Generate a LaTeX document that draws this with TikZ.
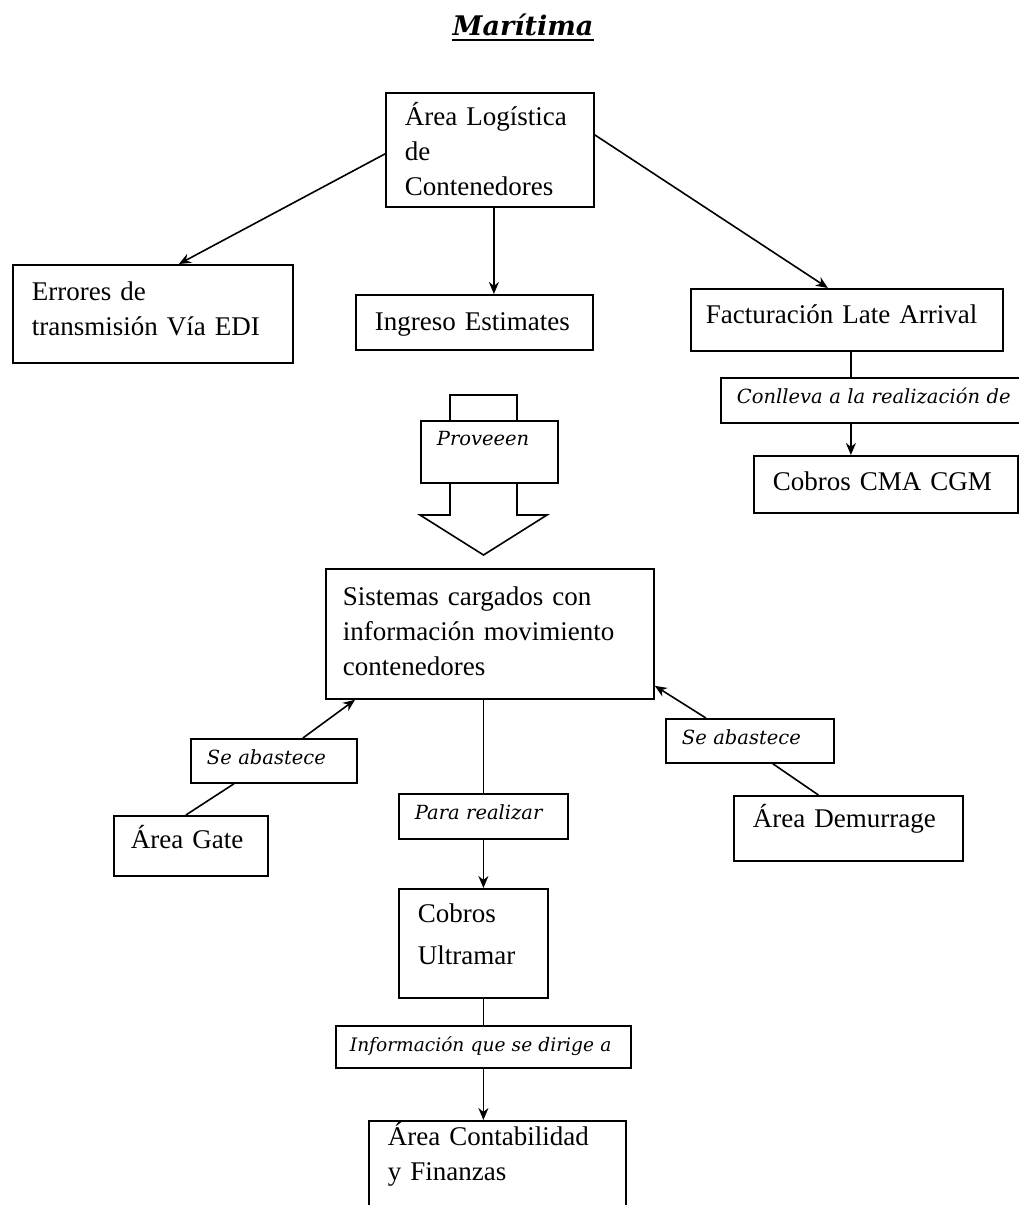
\documentclass[tikz,border=0pt]{standalone}
\usepackage{fontspec}
\setmainfont{Liberation Serif}
\newfontfamily\etiqfont{DejaVu Serif}
\usetikzlibrary{arrows.meta}

\begin{document}
\begin{tikzpicture} [-> , >= {Stealth[length=12pt, width=10pt]}, line width = 1.6pt, x = 1pt, y = -1pt,
        caja/.style = {draw, rectangle, anchor = north west, align = left, inner xsep = 19pt, inner ysep = 0pt, line width = 1.8pt, font = \fontsize{27}{35}\selectfont},
        etiqueta/.style = {draw, rectangle, fill = white, anchor = north west, align = left, inner xsep = 16pt, inner ysep = 0pt, text height = 26pt, line width = 1.8pt, font = \etiqfont\itshape\fontsize{19.5}{24}\selectfont}]
        \useasboundingbox (0,0) rectangle (1019,1205);

        \node [anchor = base, inner sep = 0pt, font = \etiqfont\bfseries\itshape\fontsize{27}{32}\selectfont] (titulo) at (523,35) {Marítima};
        \draw [-, line width = 2pt] ([yshift=-5pt]titulo.base west) -- ([yshift=-5pt]titulo.base east);

        \node [caja, text width = 170pt, text height = 33pt, text depth = 81pt] (logistica) at (385,92) {Área Logística\\de\\Contenedores};
        \node [caja, text width = 242pt, text height = 36pt, text depth = 62pt] (errores) at (12,264) {Errores de\\transmisión Vía EDI};
        \node [caja, text width = 199pt, text height = 36pt, text depth = 19pt] (ingreso) at (355,294) {Ingreso Estimates};
        \node [caja, inner xsep = 15pt, text width = 282pt, text height = 35pt, text depth = 27pt] (facturacion) at (690,288) {Facturación Late Arrival};
        \node [etiqueta, text width = 278pt, text depth = 19pt] (conlleva) at (720,377) {Conlleva a la realización de};
        \node [caja, text width = 226pt, text height = 35pt, text depth = 22pt] (cmacgm) at (753,455) {Cobros CMA CGM};

        \path ([yshift=-4pt]logistica.west) edge ([xshift=26pt]errores.north);
        \path ([xshift=4pt]logistica.south) edge ([xshift=4pt]logistica.south |- ingreso.north);
        \path ([yshift=15pt]logistica.east) edge ([xshift=-19pt]facturacion.north);
        \path ([xshift=4pt]facturacion.south) edge [-] ([xshift=4pt]facturacion.south |- conlleva.north);
        \path ([xshift=4pt]facturacion.south |- conlleva.south) edge ([xshift=4pt]facturacion.south |- cmacgm.north);

        % flecha de bloque
        \draw [-, fill = white] (450,395) -- (517,395) -- (517,515) -- (547,515) -- (483.5,555) -- (420,515) -- (450,515) -- cycle;
        \node [etiqueta, text width = 105pt, text height = 25pt, text depth = 37pt] (proveen) at (420,420) {Proveeen};

        \node [caja, inner xsep = 17pt, text width = 294pt, text height = 37pt, text depth = 93pt] (sistemas) at (325,568) {Sistemas cargados con\\información movimiento\\contenedores};
        \node [etiqueta, text width = 134pt, text depth = 18pt] (seizq) at (190,738) {Se abastece};
        \node [caja, inner xsep = 17pt, text width = 120pt, text height = 33pt, text depth = 27pt] (gate) at (113,815) {Área Gate};
        \node [etiqueta, text width = 136pt, text depth = 18pt] (seder) at (665,718) {Se abastece};
        \node [caja, text width = 191pt, text height = 32pt, text depth = 33pt] (demurrage) at (733,795) {Área Demurrage};

        \path ([xshift=-5pt]gate.north) edge [-] ([xshift=-40pt]seizq.south);
        \path ([xshift=29pt]seizq.north) edge ([xshift=30pt]sistemas.south west);
        \path ([xshift=-30pt]demurrage.north) edge [-] ([xshift=23pt]seder.south);
        \path ([xshift=-44pt]seder.north) edge ([yshift=14pt]sistemas.south east);

        \node [etiqueta, text width = 137pt, text depth = 19pt] (para) at (398,793) {Para realizar};
        \node [caja, text width = 111pt, text height = 34pt, text depth = 75pt] (ultramar) at (398,888) {Cobros\\[7pt]Ultramar};
        \node [etiqueta, inner xsep = 14pt, text width = 267pt, text depth = 16pt, font = \etiqfont\itshape\fontsize{18.6}{24}\selectfont] (info) at (335,1025) {Información que se dirige a};
        \node [caja, text width = 219pt, text height = 25pt, text depth = 105pt] (contabilidad) at (368,1120) {Área Contabilidad\\y Finanzas};

        \path (sistemas.south -| para.north) edge [-] (para.north);
        \path (para.south) edge (para.south |- ultramar.north);
        \path (ultramar.south -| info.north) edge [-] (info.north);
        \path (info.south) edge (info.south |- contabilidad.north);

    \end{tikzpicture}
\end{document}
